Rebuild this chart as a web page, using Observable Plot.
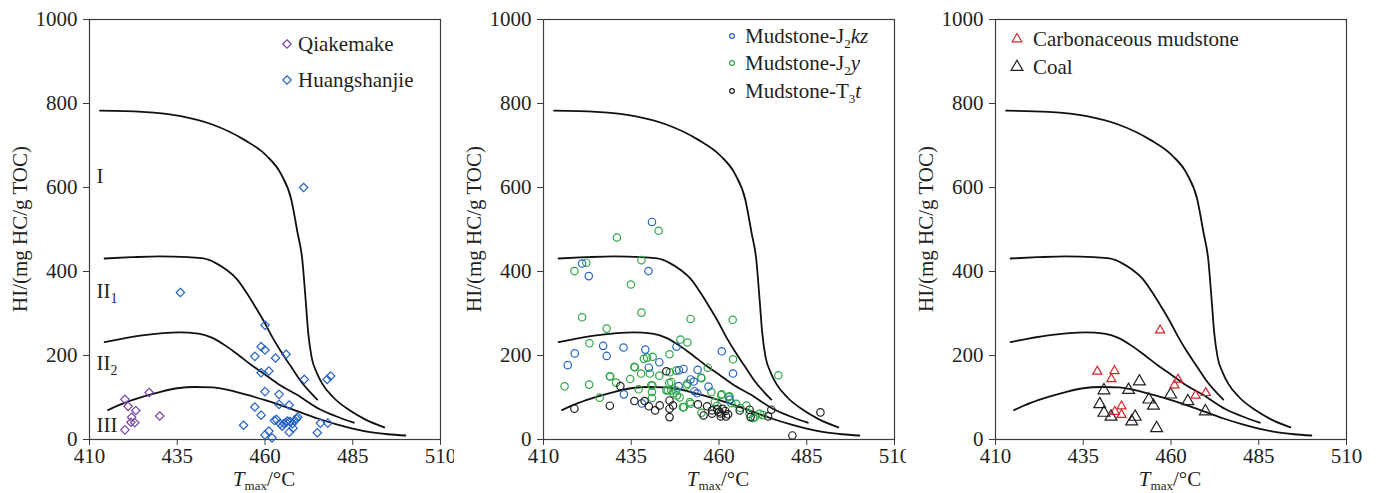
<!DOCTYPE html>
<html><head><meta charset="utf-8">
<script src="https://cdn.jsdelivr.net/npm/d3@7"></script>
<script src="https://cdn.jsdelivr.net/npm/@observablehq/plot@0.6"></script>
<style>
body{margin:0;background:#fff;}
#wrap{position:relative;width:1379px;height:493px;overflow:hidden;}
.panel{position:absolute;top:0;}
</style></head><body><div id="wrap"></div>
<script>
// ---- axis ticks ----
const xTicks = [410, 435, 460, 485, 510];
const yTicks = [0, 200, 400, 600, 800, 1000];

// ---- kerogen type boundary curves [Tmax, HI] ----
const curveI = [[413,783],[425,780],[436,770],[445,750],[454,714],[460.5,675],[464.5,633],[467.5,571],[469.3,491],[470.6,430],[471.6,330],[472.3,255],[473.3,195],[474.7,160],[476.3,133],[479.5,100],[484,70],[488.5,48],[494,29]];
const curveII1 = [[414.3,431],[422,434],[430,436],[438,434],[442.4,431],[446,420],[449,404],[452,382],[454.7,350],[457.3,315],[459.5,284],[462,245],[464.5,210],[467.3,175],[470,141],[474.9,95]];
const curveII2 = [[414.3,232],[425,248],[435.7,255],[441,252],[445,242],[449,222],[452.6,200],[456,178],[460,155],[464,131],[469,107],[475.6,72],[480,56],[485.3,40]];
const curveIII = [[415.3,70],[420,87],[425.3,102],[430,113],[435,122],[440,125],[445,124],[450,117],[455,106],[460.3,93],[465,80],[470,65],[475,50],[480.4,36],[485,26],[490,17.5],[495,12.5],[500,9.5]];

// ---- region labels ----
const regionNames = ["I", "II1", "II2", "III"];
const regionTmax = [412, 412, 412, 412];
const regionHI = [627, 352, 181, 34];

// ---- panel 1: Qiakemake / Huangshanjie ----
const qiakemake = [[420.1,95.6],[421,79],[423.2,69],[422,53],[421.8,41],[422.9,40],[420.1,23],[427,112],[430,56]];
const huangshanjie = [[435.9,350],[471,600],[460,272],[458.9,221],[460,213],[457.1,198],[463,194],[466,203],[458.9,159],[461.1,163],[471.2,143],[477.7,143],[478.7,151],[460,114],[464,107.5],[464,83.6],[466.9,82],[457.1,77.3],[458.9,58],[453.9,34],[462.7,45.4],[463.3,47.8],[464.3,37.4],[464.9,32],[465.4,38.2],[466,40.6],[466.4,43.8],[467.1,43],[467.8,37.4],[468.5,45.4],[469,49.4],[469.3,53.4],[466.9,17.5],[468,27],[460,11],[461.1,20],[462,4],[474.9,16],[475.8,39],[477.9,39]];

// ---- panel 2: mudstones ----
const j2kz = [[440.9,518],[421,419],[422.9,389],[439.9,401],[416.9,177],[418.9,205],[427,223],[428,199],[432.8,219],[439,214],[440,171],[443,184],[447.9,221],[449.9,168],[448.6,165],[453.9,166],[451.9,143],[452.8,138],[453,115],[453.8,110],[457,126],[460.8,210],[464,157],[463,95],[432.9,107.5],[438,86],[448.5,127]];
const j2y = [[442.8,497],[430.9,481],[422.2,421],[418.8,401],[437.9,427],[434.9,369],[421,291],[437.9,302],[428,264],[423.1,229],[438.6,192],[439.5,195],[441.1,197],[445.9,203],[435.9,173],[437.8,157],[440.3,157],[428.9,150.5],[416,126.6],[423,130.7],[430.7,135.5],[434.7,144],[437.1,119.5],[426,99.6],[440.7,129],[440.9,113],[445,117],[446.4,117],[440.9,98.7],[451.9,287],[463.9,285],[449,238],[451,231],[464,191],[476.9,153],[456.8,171],[454.9,147.4],[445.8,134.5],[445.4,117],[447,110],[448,105],[448.8,100],[451,133],[451.7,89],[450,77],[457.8,113],[460.8,107.5],[463,102.7],[463.5,86.7],[467.8,81],[468.7,61],[469.7,51],[471.6,61],[449.7,77],[451.9,85],[455,63.5],[458.8,89],[460.6,106],[462.8,101],[464.9,85],[470.2,53],[429,150],[436,172],[441,128.6],[443,152],[446,160],[447.8,164],[446.4,136.5],[447.8,116.7],[450.7,128.6],[455,146],[459.5,80],[466,75],[472.5,58]];
const t3t = [[445,162.5],[431.9,127.4],[418.8,73.3],[428.9,80.5],[435.9,91.5],[438.8,91.5],[440,79],[441.8,69.3],[443.1,81.2],[445.9,93],[445.9,73.3],[445.9,53.3],[446.9,81],[454,83.6],[456.6,79],[455.6,57.3],[458,69.3],[458,61.3],[459.5,72],[460,66],[460.5,62],[461,73],[461.8,68],[462,55],[462.6,60],[460.5,55],[465.9,69.3],[468.7,71],[469,53.3],[474,55],[474.9,71],[488.9,64.5],[480.9,9.6]];

// ---- panel 3: carbonaceous mudstone / coal ----
const carbMud = [[439,162],[443.9,163],[443,144],[456.9,260],[462,143],[461,129],[467,105],[469.9,111],[444,66],[445.9,79],[445.9,59]];
const coal = [[440.9,117],[439.7,84],[440.9,63.5],[442.9,54.3],[447.9,118],[451,138],[448.8,43],[449.8,54],[453.7,95],[455,80.3],[455.9,27],[459.9,107],[464.8,91],[469.8,67]];

const FONT = "'Liberation Serif','Times New Roman',serif";
const INK = "#231f20";
const C = {purple:"#7a45aa", blue:"#2463c4", green:"#2fa64a", red:"#d8262d", black:"#1e1e1e"};

function makePanel(left, width, series, legend) {
  const marks = [
    Plot.frame({stroke:"#3c3c3c", strokeWidth:1.2}),
    Plot.axisX({ticks:xTicks, tickSize:6, tickPadding:3, tickFormat:d=>String(d), label:null, stroke:"#3c3c3c"}),
    Plot.axisY({ticks:yTicks, tickSize:6, tickPadding:6, tickFormat:d=>String(d), label:null, stroke:"#3c3c3c"}),
  ];
  for (const c of [curveI, curveII1, curveII2, curveIII]) {
    marks.push(Plot.line(c, {x:d=>d[0], y:d=>d[1], curve:"monotone-x", stroke:"#111", strokeWidth:1.8}));
  }
  if (left === 0) {
    marks.push(Plot.text(regionNames, {x:(d,i)=>regionTmax[i], y:(d,i)=>regionHI[i], text:d=>d, textAnchor:"start", fill:INK, fontSize:21}));
  }
  for (const s of series) {
    marks.push(Plot.dot(s.data, {x:d=>d[0], y:d=>d[1], symbol:s.symbol, r:s.r, stroke:s.color, strokeWidth:1.2, fill:"none"}));
  }
  const svg = Plot.plot({
    width, height:493,
    marginLeft:89, marginRight:width-440, marginTop:19, marginBottom:54,
    style:{fontFamily:FONT, fontSize:"21px", color:INK, background:"white", overflow:"visible"},
    x:{domain:[410,510]},
    y:{domain:[0,1000]},
    marks
  });
  const s = d3.select(svg);
  s.selectAll("text").each(function(){
    const t = this.textContent;
    if (t === "II1" || t === "II2") {
      this.textContent = "";
      d3.select(this).append("tspan").text("II");
      d3.select(this).append("tspan").attr("font-size","14px").attr("dy","0.35em").text(t.slice(2));
    }
  });
  // y-axis title
  s.append("text").attr("transform","translate(27,229) rotate(-90)")
    .attr("text-anchor","middle").attr("fill",INK).attr("font-size","21px")
    .text("HI/(mg HC/g TOC)");
  // x-axis title
  const xt = s.append("text").attr("x",264).attr("y",486).attr("text-anchor","middle").attr("fill",INK).attr("font-size","21px");
  xt.append("tspan").attr("font-style","italic").text("T");
  xt.append("tspan").attr("font-size","13px").attr("dy","4").text("max");
  xt.append("tspan").attr("dy","-4").text("/°C");
  // legend
  const lg = s.append("g").attr("text-anchor","start");
  legend.items.forEach((it, i) => {
    const y = legend.y[i];
    lg.append("path").attr("transform",`translate(${legend.sx},${y})`)
      .attr("d", d3.symbol().type(it.type).size(it.size)())
      .attr("fill","none").attr("stroke",it.color).attr("stroke-width",1.2);
    const tx = lg.append("text").attr("x",legend.tx).attr("y",y).attr("dy","0.35em")
      .attr("text-anchor","start").attr("fill",INK).attr("font-size","21px");
    for (const p of it.parts) {
      const ts = tx.append("tspan").text(p.t);
      if (p.sub) ts.attr("font-size","13px").attr("dy","5");
      if (p.up) ts.attr("dy","-5");
      if (p.it) ts.attr("font-style","italic");
    }
  });
  const div = document.createElement("div");
  div.className = "panel";
  div.style.left = left + "px";
  div.appendChild(svg);
  document.getElementById("wrap").appendChild(div);
}

makePanel(0, 454,
  [{data:qiakemake, symbol:"diamond2", r:3.8, color:C.purple},
   {data:huangshanjie, symbol:"diamond2", r:3.8, color:C.blue}],
  {sx:287, tx:298, y:[44,80], items:[
    {type:d3.symbolDiamond2, size:45, color:C.purple, parts:[{t:"Qiakemake"}]},
    {type:d3.symbolDiamond2, size:45, color:C.blue, parts:[{t:"Huangshanjie"}]}]});

makePanel(454, 452,
  [{data:j2y, symbol:"circle", r:3.7, color:C.green},
   {data:j2kz, symbol:"circle", r:3.7, color:C.blue},
   {data:t3t, symbol:"circle", r:3.7, color:C.black}],
  {sx:278, tx:291, y:[36,63,91], items:[
    {type:d3.symbolCircle, size:18, color:C.blue, parts:[{t:"Mudstone-J"},{t:"2",sub:true},{t:"kz",it:true,up:true}]},
    {type:d3.symbolCircle, size:18, color:C.green, parts:[{t:"Mudstone-J"},{t:"2",sub:true},{t:"y",it:true,up:true}]},
    {type:d3.symbolCircle, size:18, color:C.black, parts:[{t:"Mudstone-T"},{t:"3",sub:true},{t:"t",it:true,up:true}]}]});

makePanel(906, 473,
  [{data:coal, symbol:"triangle", r:4.4, color:C.black},
   {data:carbMud, symbol:"triangle", r:3.4, color:C.red}],
  {sx:111, tx:127, y:[39,67], items:[
    {type:d3.symbolTriangle, size:40, color:C.red, parts:[{t:"Carbonaceous mudstone"}]},
    {type:d3.symbolTriangle, size:60, color:C.black, parts:[{t:"Coal"}]}]});
</script></body></html>
